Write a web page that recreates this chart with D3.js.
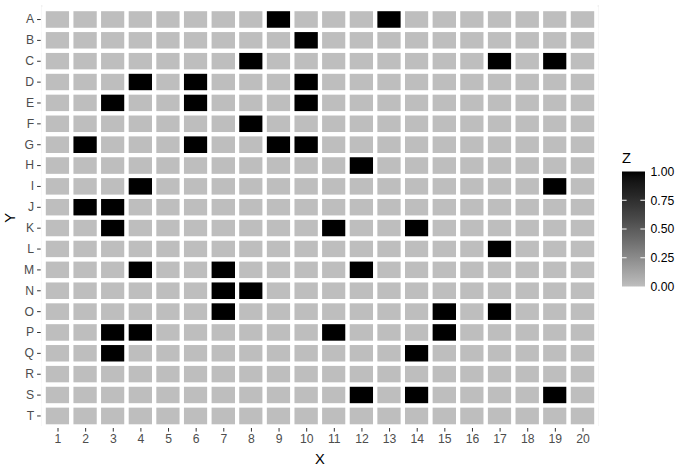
<!DOCTYPE html>
<html>
<head>
<meta charset="utf-8">
<script src="https://cdn.jsdelivr.net/npm/d3@7"></script>
<style>
  html, body { margin: 0; padding: 0; background: #ffffff; }
  svg { display: block; font-family: "Liberation Sans", Arial, sans-serif; }
</style>
</head>
<body>
<svg id="chart" width="689" height="474"></svg>
<script>
// ---- data ----
const xValues = d3.range(1, 21);
const yValues = ["A","B","C","D","E","F","G","H","I","J","K","L","M","N","O","P","Q","R","S","T"];
// columns where Z = 1, per row (all other cells Z = 0)
const hotA = [9, 13];
const hotB = [10];
const hotC = [8, 17, 19];
const hotD = [4, 6, 10];
const hotE = [3, 6, 10];
const hotF = [8];
const hotG = [2, 6, 9, 10];
const hotH = [12];
const hotI = [4, 19];
const hotJ = [2, 3];
const hotK = [3, 11, 14];
const hotL = [17];
const hotM = [4, 7, 12];
const hotN = [7, 8];
const hotO = [7, 15, 17];
const hotP = [3, 4, 11, 15];
const hotQ = [3, 14];
const hotR = [];
const hotS = [12, 14, 19];
const hotT = [];
const hotRows = [hotA, hotB, hotC, hotD, hotE, hotF, hotG, hotH, hotI, hotJ,
                 hotK, hotL, hotM, hotN, hotO, hotP, hotQ, hotR, hotS, hotT];
const legendTicks = [0, 0.25, 0.5, 0.75, 1];
const legendLabels = ["0.00", "0.25", "0.50", "0.75", "1.00"];

const cells = [];
yValues.forEach((y, i) => {
  xValues.forEach(x => {
    cells.push({ x: x, y: y, z: hotRows[i].includes(x) ? 1 : 0 });
  });
});

// ---- layout ----
const svg = d3.select("#chart");
const panel = { left: 43.7, right: 596.3, top: 9.1, bottom: 426.4 };
const axisFont = "12.2px";

const xScale = d3.scaleLinear().domain([0.5, 20.5]).range([panel.left, panel.right]);
const yScale = d3.scaleBand().domain(yValues).range([panel.top, panel.bottom]).padding(0);
const color = d3.scaleLinear().domain([0, 1]).range(["#bebebe", "#000000"]).interpolate(d3.interpolateLab);

// faint panel edge lines
const g = svg.append("g");
[panel.left - 1.9, panel.right + 1.9].forEach(px => {
  g.append("line")
    .attr("x1", px).attr("x2", px)
    .attr("y1", 5).attr("y2", 426)
    .attr("stroke", "#ebebeb").attr("stroke-width", 1);
});

// tiles
g.selectAll("rect.tile")
  .data(cells)
  .join("rect")
  .attr("class", "tile")
  .attr("x", d => xScale(d.x - 0.5))
  .attr("y", d => yScale(d.y))
  .attr("width", xScale(1.5) - xScale(0.5))
  .attr("height", yScale.bandwidth())
  .attr("fill", d => color(d.z))
  .attr("stroke", "#ffffff")
  .attr("stroke-width", 4.2);

// x axis
const xAxis = d3.axisBottom(xScale).tickValues(xValues).tickSize(3.6).tickPadding(3).tickFormat(d3.format("d"));
const xg = svg.append("g").attr("transform", `translate(0,${panel.bottom + 1.6})`).call(xAxis);
xg.select(".domain").remove();
xg.selectAll(".tick line").attr("stroke", "#333333").attr("stroke-width", 1);
xg.selectAll(".tick text").attr("fill", "#4d4d4d").style("font-size", axisFont)
  .style("font-family", "Liberation Sans, Arial, sans-serif");

// y axis
const yAxis = d3.axisLeft(yScale).tickSize(3.6).tickPadding(3);
const yg = svg.append("g").attr("transform", `translate(${panel.left - 3},0)`).call(yAxis);
yg.select(".domain").remove();
yg.selectAll(".tick line").attr("stroke", "#333333").attr("stroke-width", 1);
yg.selectAll(".tick text").attr("fill", "#4d4d4d").style("font-size", axisFont)
  .style("font-family", "Liberation Sans, Arial, sans-serif");

// axis titles
svg.append("text")
  .attr("x", (panel.left + panel.right) / 2).attr("y", 464)
  .attr("text-anchor", "middle")
  .style("font-size", "14.67px").attr("fill", "#000")
  .text("X");
svg.append("text")
  .attr("transform", `translate(15,${(panel.top + panel.bottom) / 2}) rotate(-90)`)
  .attr("text-anchor", "middle")
  .style("font-size", "14.67px").attr("fill", "#000")
  .text("Y");

// legend
const leg = { x: 622, w: 23, top: 171.5, bottom: 286.5 };
const defs = svg.append("defs");
const grad = defs.append("linearGradient").attr("id", "zgrad")
  .attr("x1", 0).attr("y1", 1).attr("x2", 0).attr("y2", 0);
d3.range(0, 1.0001, 0.05).forEach(t => {
  grad.append("stop").attr("offset", t).attr("stop-color", color(t));
});
svg.append("text")
  .attr("x", leg.x).attr("y", 163)
  .style("font-size", "14.67px").attr("fill", "#000")
  .text("Z");
svg.append("rect")
  .attr("x", leg.x).attr("y", leg.top)
  .attr("width", leg.w).attr("height", leg.bottom - leg.top)
  .attr("fill", "url(#zgrad)");
const legScale = d3.scaleLinear().domain([0, 1]).range([leg.bottom, leg.top]);
const legG = svg.append("g");
legG.selectAll("line.tl")
  .data(legendTicks.filter(v => v > 0 && v < 1))
  .join("line")
  .attr("x1", leg.x).attr("x2", leg.x + 4.6)
  .attr("y1", d => legScale(d)).attr("y2", d => legScale(d))
  .attr("stroke", "#ffffff").attr("stroke-width", 1);
legG.selectAll("line.tr")
  .data(legendTicks.filter(v => v > 0 && v < 1))
  .join("line")
  .attr("x1", leg.x + leg.w - 4.6).attr("x2", leg.x + leg.w)
  .attr("y1", d => legScale(d)).attr("y2", d => legScale(d))
  .attr("stroke", "#ffffff").attr("stroke-width", 1);
legG.selectAll("text")
  .data(legendTicks)
  .join("text")
  .attr("x", leg.x + leg.w + 5.5)
  .attr("y", d => legScale(d))
  .attr("dy", "0.36em")
  .style("font-size", axisFont).attr("fill", "#000")
  .text((d, i) => legendLabels[i]);
</script>
</body>
</html>
